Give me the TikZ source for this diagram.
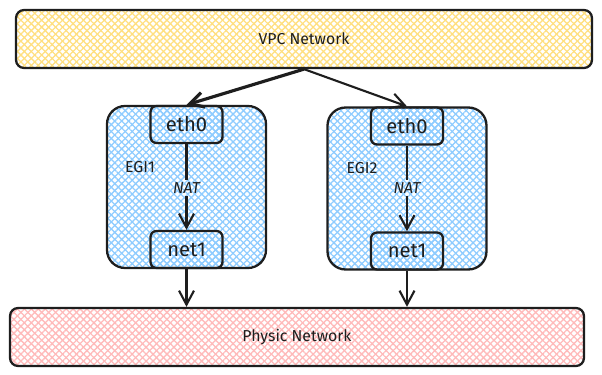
\documentclass[tikz,border=0pt]{standalone}
\usepackage{fontspec}
\setmainfont{Fira Sans}
\usepackage{tikz}
\usetikzlibrary{arrows.meta,positioning,patterns.meta}
\definecolor{ink}{HTML}{1E1E1E}
\definecolor{vpcyellow}{HTML}{FFDF80}
\definecolor{egiblue}{HTML}{8FCCFF}
\definecolor{phyred}{HTML}{FFBABA}
\begin{document}
\begin{tikzpicture}[
    x=0.02cm, y=-0.02cm,
    font=\fontsize{9}{11}\selectfont,
    hatch/.style={
      preaction={pattern={Lines[angle=45,distance=2.8pt,line width=0.75pt]}, pattern color=#1},
      preaction={pattern={Lines[angle=-45,distance=2.8pt,line width=0.75pt]}, pattern color=#1}},
    network/.style={draw=ink, line width=1.3pt, rounded corners=0.16cm, minimum height=1.16cm, text=ink},
    egi/.style={draw=ink, line width=1.3pt, rounded corners=0.36cm, hatch=egiblue, minimum width=3.18cm, minimum height=3.24cm},
    iface/.style={draw=ink, line width=1.3pt, rounded corners=0.12cm, hatch=egiblue, minimum width=1.44cm, minimum height=0.74cm, font=\fontsize{11.5}{13}\selectfont, text=ink},
    tag/.style={text=ink, inner sep=1pt},
    arrow/.style={-{Straight Barb[length=2.8mm,width=3mm]}, draw=ink, line width=1.2pt}
]
\useasboundingbox (0,0) rectangle (602,375);

% Networks
\node[network, hatch=vpcyellow, minimum width=11.52cm] (vpc) at (304,39) {VPC Network};
\node[network, hatch=phyred, minimum width=11.48cm] (phys) at (297,337) {Physic Network};

% EGI 1
\node[egi] (egi1) at (186.5,187) {};
\node[iface, anchor=north] (eth1) at (egi1.north) {eth0};
\node[iface, anchor=south] (net1) at (egi1.south) {net1};
\node[tag] (lab1) at (140,167) {EGI1};
\node[tag, font=\fontsize{9}{11}\selectfont\itshape] (nat1) at (egi1.center |- 0,188) {NAT};
\draw[draw=ink, line width=1.6pt] (eth1) -- (nat1);
\draw[arrow] (nat1) -- (net1);

% EGI 2
\node[egi] (egi2) at (407,188.5) {};
\node[iface, anchor=north] (eth2) at (egi2.north) {eth0};
\node[iface, anchor=south] (net2) at (egi2.south) {net1};
\node[tag] (lab2) at (362,168) {EGI2};
\node[tag, font=\fontsize{9}{11}\selectfont\itshape] (nat2) at (egi2.center |- 0,188) {NAT};
\draw[draw=ink, line width=1.6pt] (eth2) -- (nat2);
\draw[arrow] (nat2) -- (net2);

% Links
\draw[arrow, line width=1.8pt] (vpc.south) -- (eth1.north);
\draw[arrow] (vpc.south) -- (eth2.north);
\foreach \n in {net1, net2}
  \draw[arrow] (\n.south) -- (\n.south |- phys.north);

\end{tikzpicture}
\end{document}
